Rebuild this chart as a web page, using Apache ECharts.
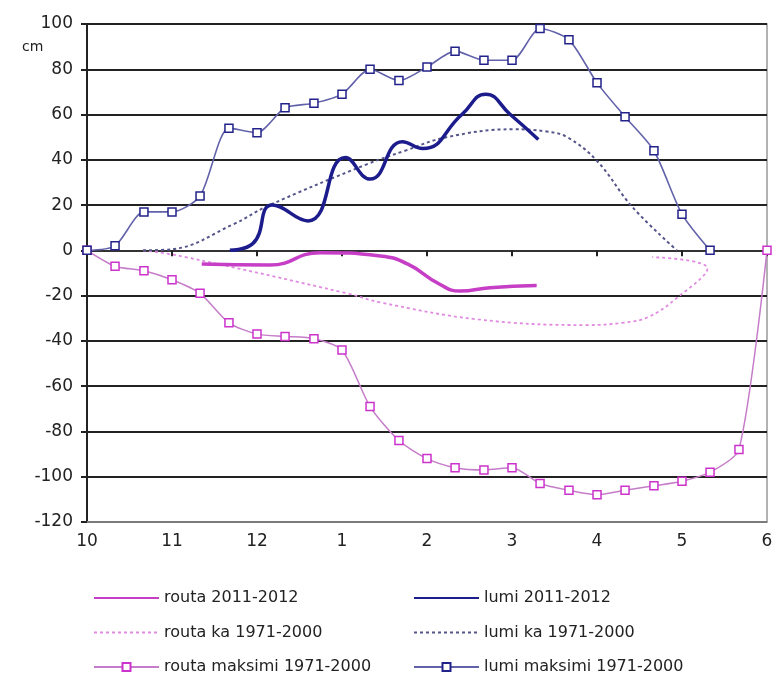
<!DOCTYPE html>
<html><head><meta charset="utf-8">
<script src="https://cdn.jsdelivr.net/npm/echarts@6/dist/echarts.min.js"></script>
<style>html,body{margin:0;padding:0;background:#fff}#c{width:780px;height:681px}</style>
</head><body><div id="c"></div>
<script>
const monthLabels = ['10','11','12','1','2','3','4','5','6'];
const yTicks = [-120,-100,-80,-60,-40,-20,0,20,40,60,80,100];

const routa2011X = [11.35,12.15,12.74,13.45,13.77,14.15,14.39,14.74,15.29];
const routa2011Y = [-6,-6.5,-1,-2.5,-6,-15,-18,-16.5,-15.5];

const lumi2011X = [11.68,11.95,12.18,12.6,13.04,13.33,13.71,13.95,14.41,14.69,14.98,15.31];
const lumi2011Y = [0,3,20,13,41,31.5,48,45,60,69,60,49];

const routaKaX = [10.66,11.1,13.06,13.45,14.6,15.88,16.3,16.6,16.94,17.3,16.65];
const routaKaY = [0,-2.5,-19,-23,-30.5,-33,-32,-29.5,-21,-8,-3];

const lumiKaX = [10.66,11.0,11.72,12.12,13.29,13.74,14.23,15.01,15.41,15.65,16.0,16.42,16.94];
const lumiKaY = [0,0.5,11.5,19.5,38,44,50,53.5,52.5,50,39.5,19,0];

const routaMaxX = [10,10.33,10.67,11,11.33,11.67,12,12.33,12.67,13,13.33,13.67,14,14.33,14.67,15,15.33,15.67,16,16.33,16.67,17,17.33,17.67,18];
const routaMaxY = [0,-7,-9,-13,-19,-32,-37,-38,-39,-44,-69,-84,-92,-96,-97,-96,-103,-106,-108,-106,-104,-102,-98,-88,0];

const lumiMaxX = [10,10.33,10.67,11,11.33,11.67,12,12.33,12.67,13,13.33,13.67,14,14.33,14.67,15,15.33,15.67,16,16.33,16.67,17,17.33];
const lumiMaxY = [0,2,17,17,24,54,52,63,65,69,80,75,81,88,84,84,98,93,74,59,44,16,0];

const names = ['routa 2011-2012','routa ka 1971-2000','routa maksimi 1971-2000','lumi 2011-2012','lumi ka 1971-2000','lumi maksimi 1971-2000'];

function pairs(xs, ys){ return xs.map((x,i)=>[x, ys[i]]); }

const chart = echarts.init(document.getElementById('c'), null, {renderer:'canvas'});
const FONT = '"DejaVu Sans", sans-serif';
const xCommon = {type:'value', min:10, max:18, interval:1};
const legendText = {fontSize:16, color:'#222', fontFamily:FONT};
const noSym = {opacity:0};
chart.setOption({
  animation:false,
  backgroundColor:'#fff',
  textStyle:{fontFamily:FONT},
  grid:{left:87, right:13, top:24, bottom:159, show:true, borderColor:'#999', borderWidth:1.5},
  graphic:[{type:'text', left:22, top:40, style:{text:'cm', font:'14px '+FONT, fill:'#222'}}],
  legend:[
    {orient:'vertical', left:88, top:585, height:94, itemWidth:65, itemHeight:10, itemGap:18.5,
     data:[{name:names[0], itemStyle:noSym},{name:names[1], itemStyle:noSym},names[2]], textStyle:legendText},
    {orient:'vertical', left:408, top:585, height:94, itemWidth:65, itemHeight:10, itemGap:18.5,
     data:[{name:names[3], itemStyle:noSym},{name:names[4], itemStyle:noSym},names[5]], textStyle:legendText}
  ],
  xAxis:[
    Object.assign({}, xCommon, {position:'bottom',
      axisLine:{onZero:false, lineStyle:{color:'#999', width:1.5}},
      axisTick:{show:false}, splitLine:{show:false},
      axisLabel:{fontSize:17, color:'#222', margin:11, fontFamily:FONT,
        formatter:v=>monthLabels[Math.round(v-10)]}}),
    Object.assign({}, xCommon, {position:'bottom',
      axisLine:{onZero:true, lineStyle:{color:'#333', width:2}},
      axisTick:{show:true, inside:false, length:6, lineStyle:{color:'#222', width:2}},
      axisLabel:{show:false}, splitLine:{show:false}})
  ],
  yAxis:{type:'value', min:yTicks[0], max:yTicks[yTicks.length-1], interval:20,
    axisLine:{show:true, lineStyle:{color:'#222', width:2}},
    axisTick:{show:true, length:6, lineStyle:{color:'#222', width:2}},
    axisLabel:{fontSize:17, color:'#222', margin:14, fontFamily:FONT},
    splitLine:{show:true, lineStyle:{color:'#222', width:2}}},
  series:[
    {name:names[2], type:'line', smooth:0.25, data:pairs(routaMaxX,routaMaxY),
      symbol:'rect', symbolSize:8, showSymbol:true,
      lineStyle:{color:'#c57cc9', width:1.5},
      itemStyle:{color:'#fff', borderColor:'#cc33cc', borderWidth:1.5}, z:3},
    {name:names[5], type:'line', smooth:0.25, data:pairs(lumiMaxX,lumiMaxY),
      symbol:'rect', symbolSize:8, showSymbol:true,
      lineStyle:{color:'#6262aa', width:1.6},
      itemStyle:{color:'#fff', borderColor:'#22228a', borderWidth:1.5}, z:3},
    {name:names[1], type:'line', smooth:0.4, data:pairs(routaKaX,routaKaY), symbol:'none',
      lineStyle:{color:'#e08ae0', width:1.8, type:[3,3]}, itemStyle:{color:'#e08ae0'}},
    {name:names[4], type:'line', smooth:0.4, data:pairs(lumiKaX,lumiKaY), symbol:'none',
      lineStyle:{color:'#55558a', width:2, type:[3,3]}, itemStyle:{color:'#55558a'}},
    {name:names[0], type:'line', smooth:0.5, data:pairs(routa2011X,routa2011Y), symbol:'none',
      lineStyle:{color:'#c63ec6', width:3.5}, itemStyle:{color:'#c63ec6'}, z:4},
    {name:names[3], type:'line', smooth:0.5, data:pairs(lumi2011X,lumi2011Y), symbol:'none',
      lineStyle:{color:'#1c1c8c', width:3.5}, itemStyle:{color:'#1c1c8c'}, z:4}
  ]
});
</script></body></html>
